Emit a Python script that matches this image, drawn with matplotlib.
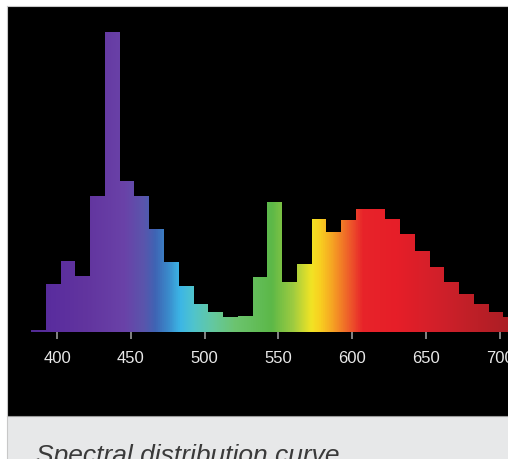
import numpy as np
import matplotlib
matplotlib.use("Agg")
import matplotlib.pyplot as plt
from matplotlib.patches import Rectangle, PathPatch
from matplotlib.path import Path
from matplotlib.lines import Line2D
from matplotlib.colors import LinearSegmentedColormap, Normalize

plt.rcParams['font.family'] = ['Liberation Sans', 'DejaVu Sans']

# ---- data (relative spectral power, peak = 100) ----
wavelengths = [387.5, 397.5, 407.5, 417.5, 427.5, 437.5, 447.5, 457.5, 467.5,
               477.5, 487.5, 497.5, 507.5, 517.5, 527.5, 537.5, 547.5, 557.5,
               567.5, 577.5, 587.5, 597.5, 607.5, 617.5, 627.5, 637.5, 647.5,
               657.5, 667.5, 677.5, 687.5, 697.5, 707.5]
power = [0.6, 16.0, 23.7, 18.7, 45.3, 100.0, 50.3, 45.3, 34.3,
         23.3, 15.3, 9.3, 6.7, 5.0, 5.3, 18.3, 43.3, 16.7,
         22.7, 37.7, 33.3, 37.3, 41.0, 41.0, 37.7, 32.7, 27.0,
         21.7, 16.7, 12.7, 9.3, 6.7, 5.0]
tick_values = [400, 450, 500, 550, 600, 650, 700]
caption = "Spectral distribution curve"

# spectrum colour stops (wavelength, colour)
spectrum_stops = [(370, '#4a2a8a'), (395, '#5a2d9e'), (420, '#62359f'),
                  (445, '#6a42a8'), (458, '#5a55ac'), (466, '#3f64b4'),
                  (475, '#3a8ccc'), (483, '#3cb6e6'), (492, '#50c4cc'),
                  (505, '#64c8a0'), (520, '#6cc470'), (545, '#5cb848'),
                  (560, '#a0cc40'), (572, '#f2e424'), (578, '#f8d020'),
                  (588, '#f59a24'), (598, '#ee5a2a'), (607, '#e8242a'),
                  (630, '#e61e28'), (660, '#d0202a'), (710, '#a81e24')]

W, H = 508, 460
fig = plt.figure(figsize=(W / 100, H / 100), dpi=100)
fig.patch.set_facecolor('white')

# card background
fig.patches.append(Rectangle((7 / W, (H - 416.5) / H), 501 / W, 410 / H,
                             transform=fig.transFigure, facecolor='black',
                             edgecolor='none', zorder=-5))
fig.patches.append(Rectangle((7 / W, 0), 501 / W, (H - 417) / H,
                             transform=fig.transFigure, facecolor='#e7e8e9',
                             edgecolor='none', zorder=-5))
fig.lines.append(Line2D([7 / W, 1], [(H - 417) / H] * 2, transform=fig.transFigure,
                        color='#9a9a9a', lw=0.8, zorder=-4))
fig.lines.append(Line2D([7 / W, 7 / W], [0, (H - 6.5) / H], transform=fig.transFigure,
                        color='#c8c8c8', lw=0.8, zorder=-4))
fig.lines.append(Line2D([7 / W, 1], [(H - 6.5) / H] * 2, transform=fig.transFigure,
                        color='#c8c8c8', lw=0.8, zorder=-4))

ax = fig.add_axes([7 / W, (H - 333) / H, 501 / W, 326 / H])
ax.set_zorder(2)
ax.set_facecolor('none')
xlo = 400 + (7 - 57) / 1.476
xhi = 400 + (508 - 57) / 1.476
ytop = 326 / 3.0

bars = ax.bar(wavelengths, power, width=10, color='none', edgecolor='none')
paths = [b.get_path().transformed(b.get_patch_transform()) for b in bars]
clip = PathPatch(Path.make_compound_path(*paths), transform=ax.transData,
                 facecolor='none', edgecolor='none')
ax.add_patch(clip)

lo, hi = spectrum_stops[0][0], spectrum_stops[-1][0]
cmap = LinearSegmentedColormap.from_list(
    'spec', [((w - lo) / (hi - lo), c) for w, c in spectrum_stops])
grad = np.linspace(lo, hi, 1000)[None, :]
im = ax.imshow(grad, extent=[lo, hi, 0, ytop], aspect='auto', cmap=cmap,
               norm=Normalize(lo, hi), origin='lower', interpolation='bilinear')
im.set_clip_path(clip)

ax.set_xlim(xlo, xhi)
ax.set_ylim(0, ytop)
ax.set_xticks(tick_values)
ax.set_xticklabels([str(t) for t in tick_values])
ax.set_yticks([])
ax.tick_params(axis='x', direction='out', length=5, width=1.2, color='#9a9a9a',
               pad=8, labelsize=12, labelcolor='#e8e8e8')
for s in ax.spines.values():
    s.set_visible(False)

fig.text(36 / W, (H - 463) / H, caption, fontsize=19, fontstyle='italic',
         color='#3a3a3a', ha='left', va='baseline', zorder=3)

fig.savefig('out.png', dpi=100, facecolor=fig.get_facecolor())
